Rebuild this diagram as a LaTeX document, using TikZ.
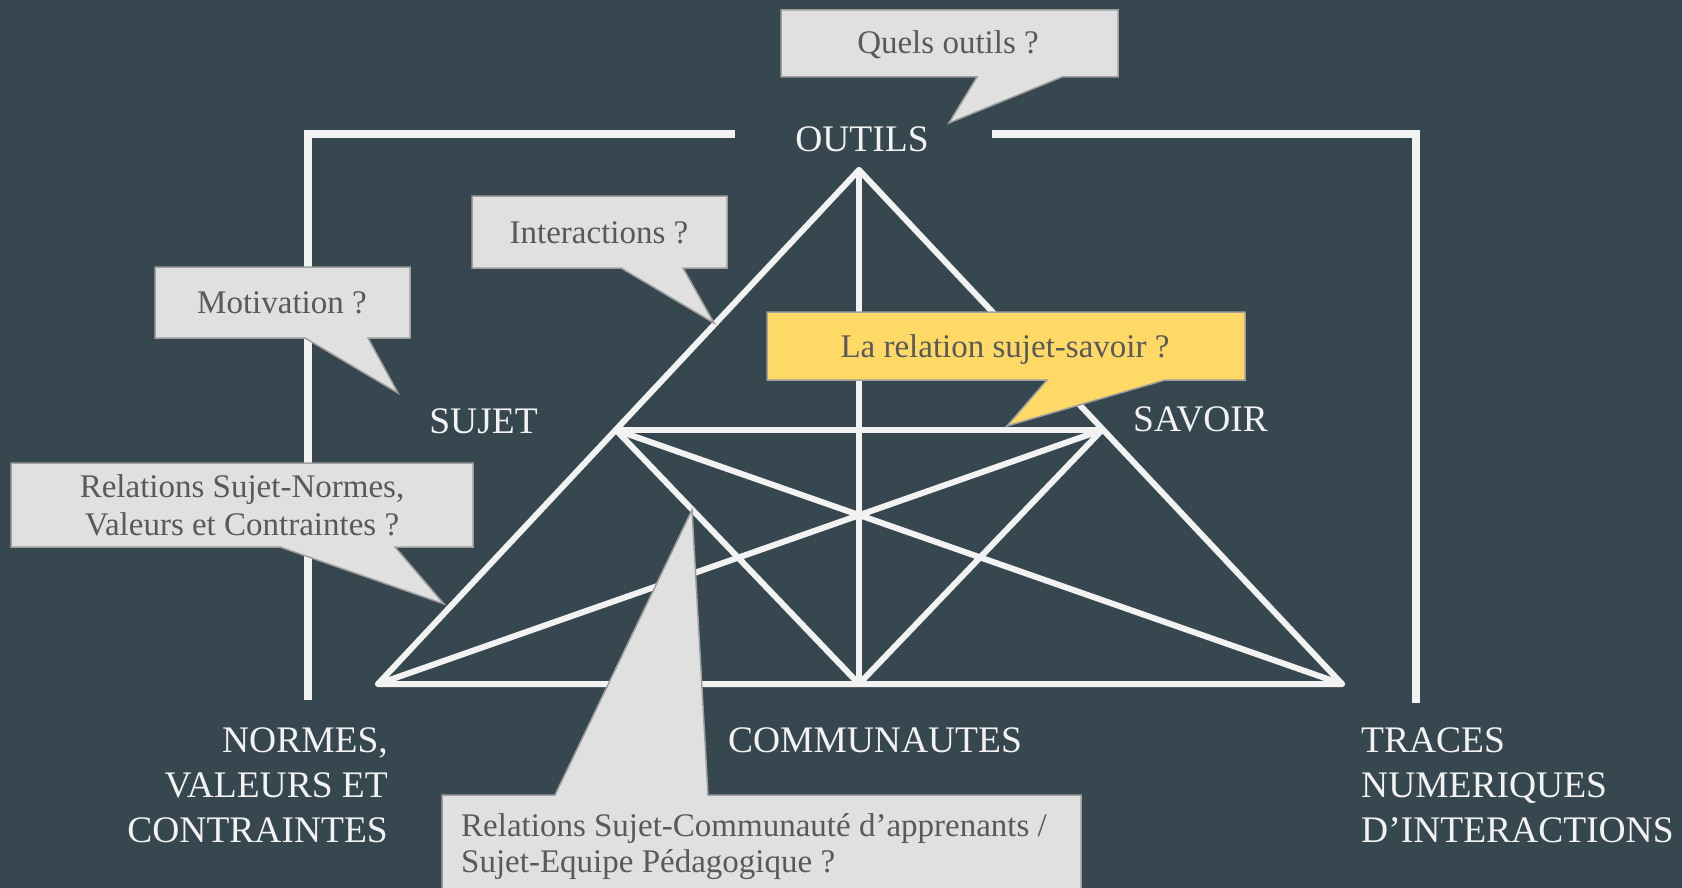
\documentclass[tikz,border=0pt]{standalone}
\usepackage{fontspec}
\setmainfont{Liberation Serif}
\usepackage{tikz}
\usetikzlibrary{calc}
\definecolor{bgclr}{RGB}{55,71,79}
\definecolor{lineclr}{RGB}{242,242,242}
\definecolor{boxfill}{RGB}{224,224,224}
\definecolor{boxline}{RGB}{158,158,158}
\definecolor{boxtext}{RGB}{89,89,89}
\definecolor{askyellow}{RGB}{255,217,102}
\tikzset{
  bracketline/.style={draw=lineclr, line width=8pt},
  triline/.style={draw=lineclr, line width=6pt, line cap=round, line join=round},
  vertexlabel/.style={text=lineclr, inner sep=0pt,
    font=\fontsize{37.5}{45}\selectfont},
  bubble/.style={fill=boxfill, draw=boxline, line width=1.5pt, line join=miter},
  bubbletext/.style={text=boxtext, inner sep=0pt,
    font=\fontsize{33}{37.5}\selectfont},
}

\begin{document}
\begin{tikzpicture}[x=1pt,y=-1pt]
\useasboundingbox (0,0) rectangle (1682,888);
\clip (0,0) rectangle (1682,888);
\fill[bgclr] (0,0) rectangle (1682,888);
\coordinate (A) at (859,170);
\coordinate (BL) at (378,684);
\coordinate (BM) at (859,684);
\coordinate (BR) at (1342,684);
\coordinate (S) at (616,430);
\coordinate (V) at (1102,430);
%\node [fill=red,inner sep=1pt] at (S) {};
\draw[bracketline]
  (735,134) -- (308,134) -- (308,700);
\draw[bracketline]
  (992,134) -- (1416,134) -- (1416,703);
\draw[triline]
  (A) -- (BL) -- (BR) -- cycle;
\draw[triline]
  (A) -- (BM);
\draw[triline]
  (S) -- (V);
\draw[triline]
  (S) -- (BM) -- (V);
\draw[triline]
  (S) -- (BR);
\draw[triline]
  (V) -- (BL);
\node[vertexlabel, anchor=base] (outils) at (862,152) {OUTILS};
\node[vertexlabel, anchor=base] (sujet) at (483.5,433) {SUJET};
\node[vertexlabel, anchor=base west] (savoir) at (1133,431) {SAVOIR};
\node[vertexlabel, anchor=base east, align=right] (normes) at (388,842)
  {NORMES,\\VALEURS ET\\CONTRAINTES};
\node[vertexlabel, anchor=base] (communautes) at (875,752) {COMMUNAUTES};
\node[vertexlabel, anchor=base west, align=left] (traces) at (1361,842)
  {TRACES\\NUMERIQUES\\D’INTERACTIONS};
% bulles
\draw[bubble]
  (781,10) -- (1118,10) -- (1118,77) -- (1062,77) --
  (949,123) -- (977,77) -- (781,77) -- cycle;
\node[bubbletext, anchor=base] (quels) at (948,54) {Quels outils ?};
\draw[bubble]
  (472,196) -- (727,196) -- (727,268) -- (683,268) --
  (714,323) -- (621,268) -- (472,268) -- cycle;
\node[bubbletext, anchor=base] (interactions) at (599,243) {Interactions ?};
\draw[bubble]
  (155,267) -- (410,267) -- (410,338) -- (368,338) --
  (398,393) -- (305,338) -- (155,338) -- cycle;
\node[bubbletext, anchor=base] (motivation) at (282,313) {Motivation ?};
\draw[bubble, fill=askyellow]
  (767,312) -- (1245,312) -- (1245,380) -- (1165,380) --
  (1007,426) -- (1047,380) -- (767,380) -- cycle;
\node[bubbletext, anchor=base] (sujetsavoir) at (1005,357) {La relation sujet-savoir ?};
\draw[bubble]
  (11,463) -- (473,463) -- (473,547) -- (395,547) --
  (444,604) -- (280,547) -- (11,547) -- cycle;
\node[bubbletext, anchor=base, align=center] (sujetnormes) at (242,535)
  {Relations Sujet-Normes,\\Valeurs et Contraintes ?};
\draw[bubble]
  (442,795) -- (555,795) -- (692,510) -- (708,795) --
  (1081,795) -- (1081,900) -- (442,900) -- cycle;
\node[bubbletext, anchor=base west, align=left,
  font=\fontsize{33}{35.5}\selectfont] (sujetcomm) at (461,872)
  {Relations Sujet-Communauté d’apprenants /\\Sujet-Equipe Pédagogique ?};
\end{tikzpicture}
\end{document}
